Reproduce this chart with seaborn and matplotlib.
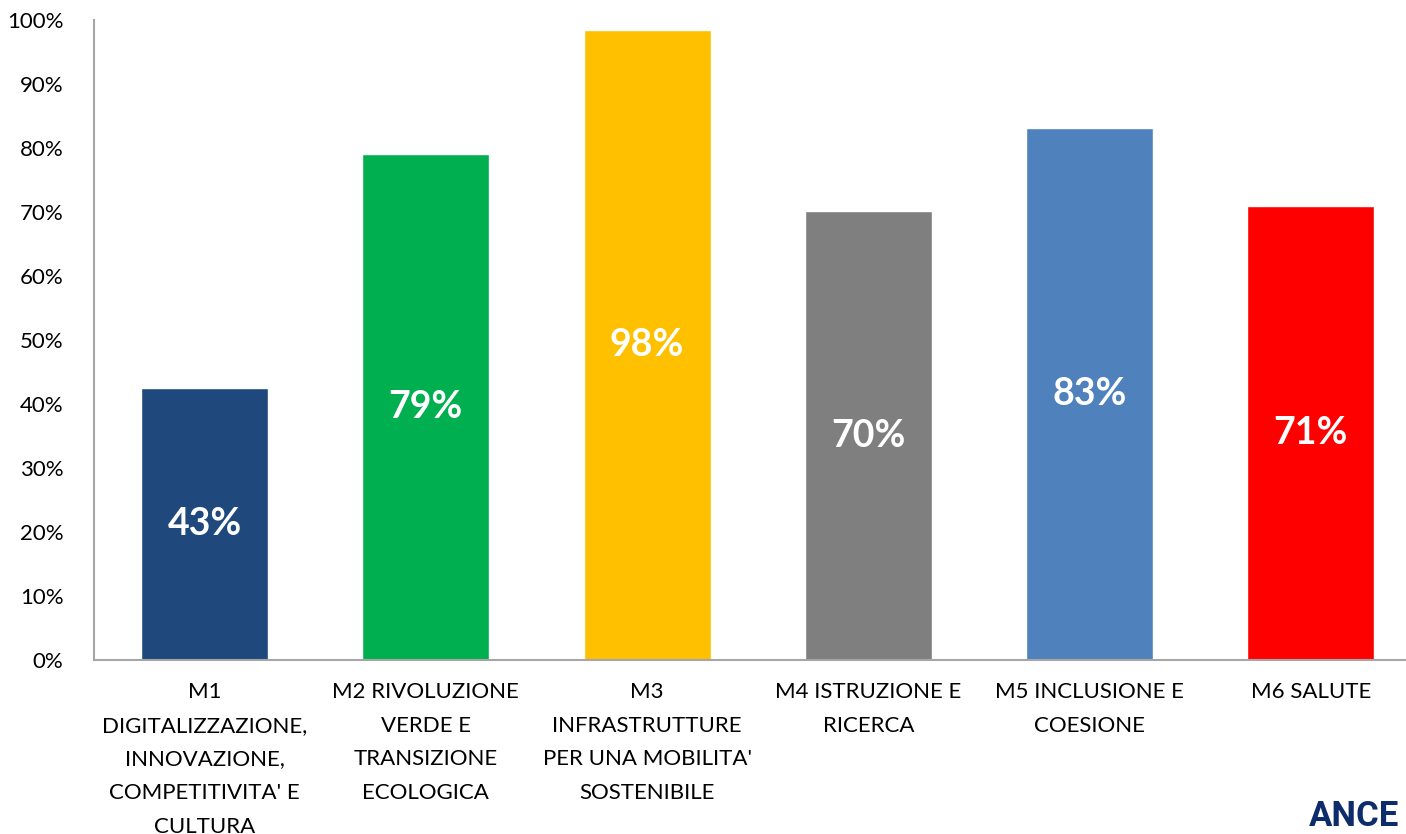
import matplotlib
matplotlib.use("Agg")
import matplotlib.pyplot as plt
import seaborn as sns
import pandas as pd

categories = [
    "M1\nDIGITALIZZAZIONE,\nINNOVAZIONE,\nCOMPETITIVITA' E\nCULTURA",
    "M2 RIVOLUZIONE\nVERDE E\nTRANSIZIONE\nECOLOGICA",
    "M3\nINFRASTRUTTURE\nPER UNA MOBILITA'\nSOSTENIBILE",
    "M4 ISTRUZIONE E\nRICERCA",
    "M5 INCLUSIONE E\nCOESIONE",
    "M6 SALUTE",
]
values = [42.5, 79.1, 98.4, 70.1, 83.1, 70.9]
labels = ["43%", "79%", "98%", "70%", "83%", "71%"]
colors = ["#1F497D", "#00B050", "#FFC000", "#7F7F7F", "#4F81BD", "#FF0000"]
yticks = [0, 10, 20, 30, 40, 50, 60, 70, 80, 90, 100]

sns.set_theme(style="white")
plt.rcParams["font.family"] = ["Lato", "DejaVu Sans"]

df = pd.DataFrame({"cat": categories, "val": values})

fig = plt.figure(figsize=(14.06, 8.34), dpi=100)
ax = fig.add_axes([94 / 1406, 1 - 660 / 834, 1 - 94 / 1406, 640 / 834])

sns.barplot(data=df, x="cat", y="val", hue="cat", palette=colors,
            legend=False, width=0.575, saturation=1, ax=ax)

for i, (v, lab) in enumerate(zip(values, labels)):
    ax.text(i, v / 2, lab, ha="center", va="center", color="white",
            fontsize=27, fontweight="bold")

ax.set_ylim(0, 100)
ax.set_xlim(-0.5, 5.43)
ax.set_yticks(yticks)
ax.set_yticklabels([f"{t}%" for t in yticks], fontsize=16, color="black")
ax.set_xticks(range(len(categories)))
ax.set_xticklabels(categories, fontsize=16, color="black", linespacing=1.85, va="top")
ax.tick_params(axis="both", length=0)
ax.tick_params(axis="x", pad=16)
ax.tick_params(axis="y", pad=22)
ax.set_xlabel("")
ax.set_ylabel("")
for s in ["top", "right"]:
    ax.spines[s].set_visible(False)
for s in ["left", "bottom"]:
    ax.spines[s].set_color("#A6A6A6")
    ax.spines[s].set_linewidth(1.5)
ax.grid(False)

fig.text(1354 / 1406, 1 - 816 / 834, "ANCE", ha="center", va="center",
         fontsize=25, fontweight="bold", color="#0D2C6C",
         family=["Roboto", "DejaVu Sans"], stretch="condensed")

fig.savefig("out.png", dpi=100)
